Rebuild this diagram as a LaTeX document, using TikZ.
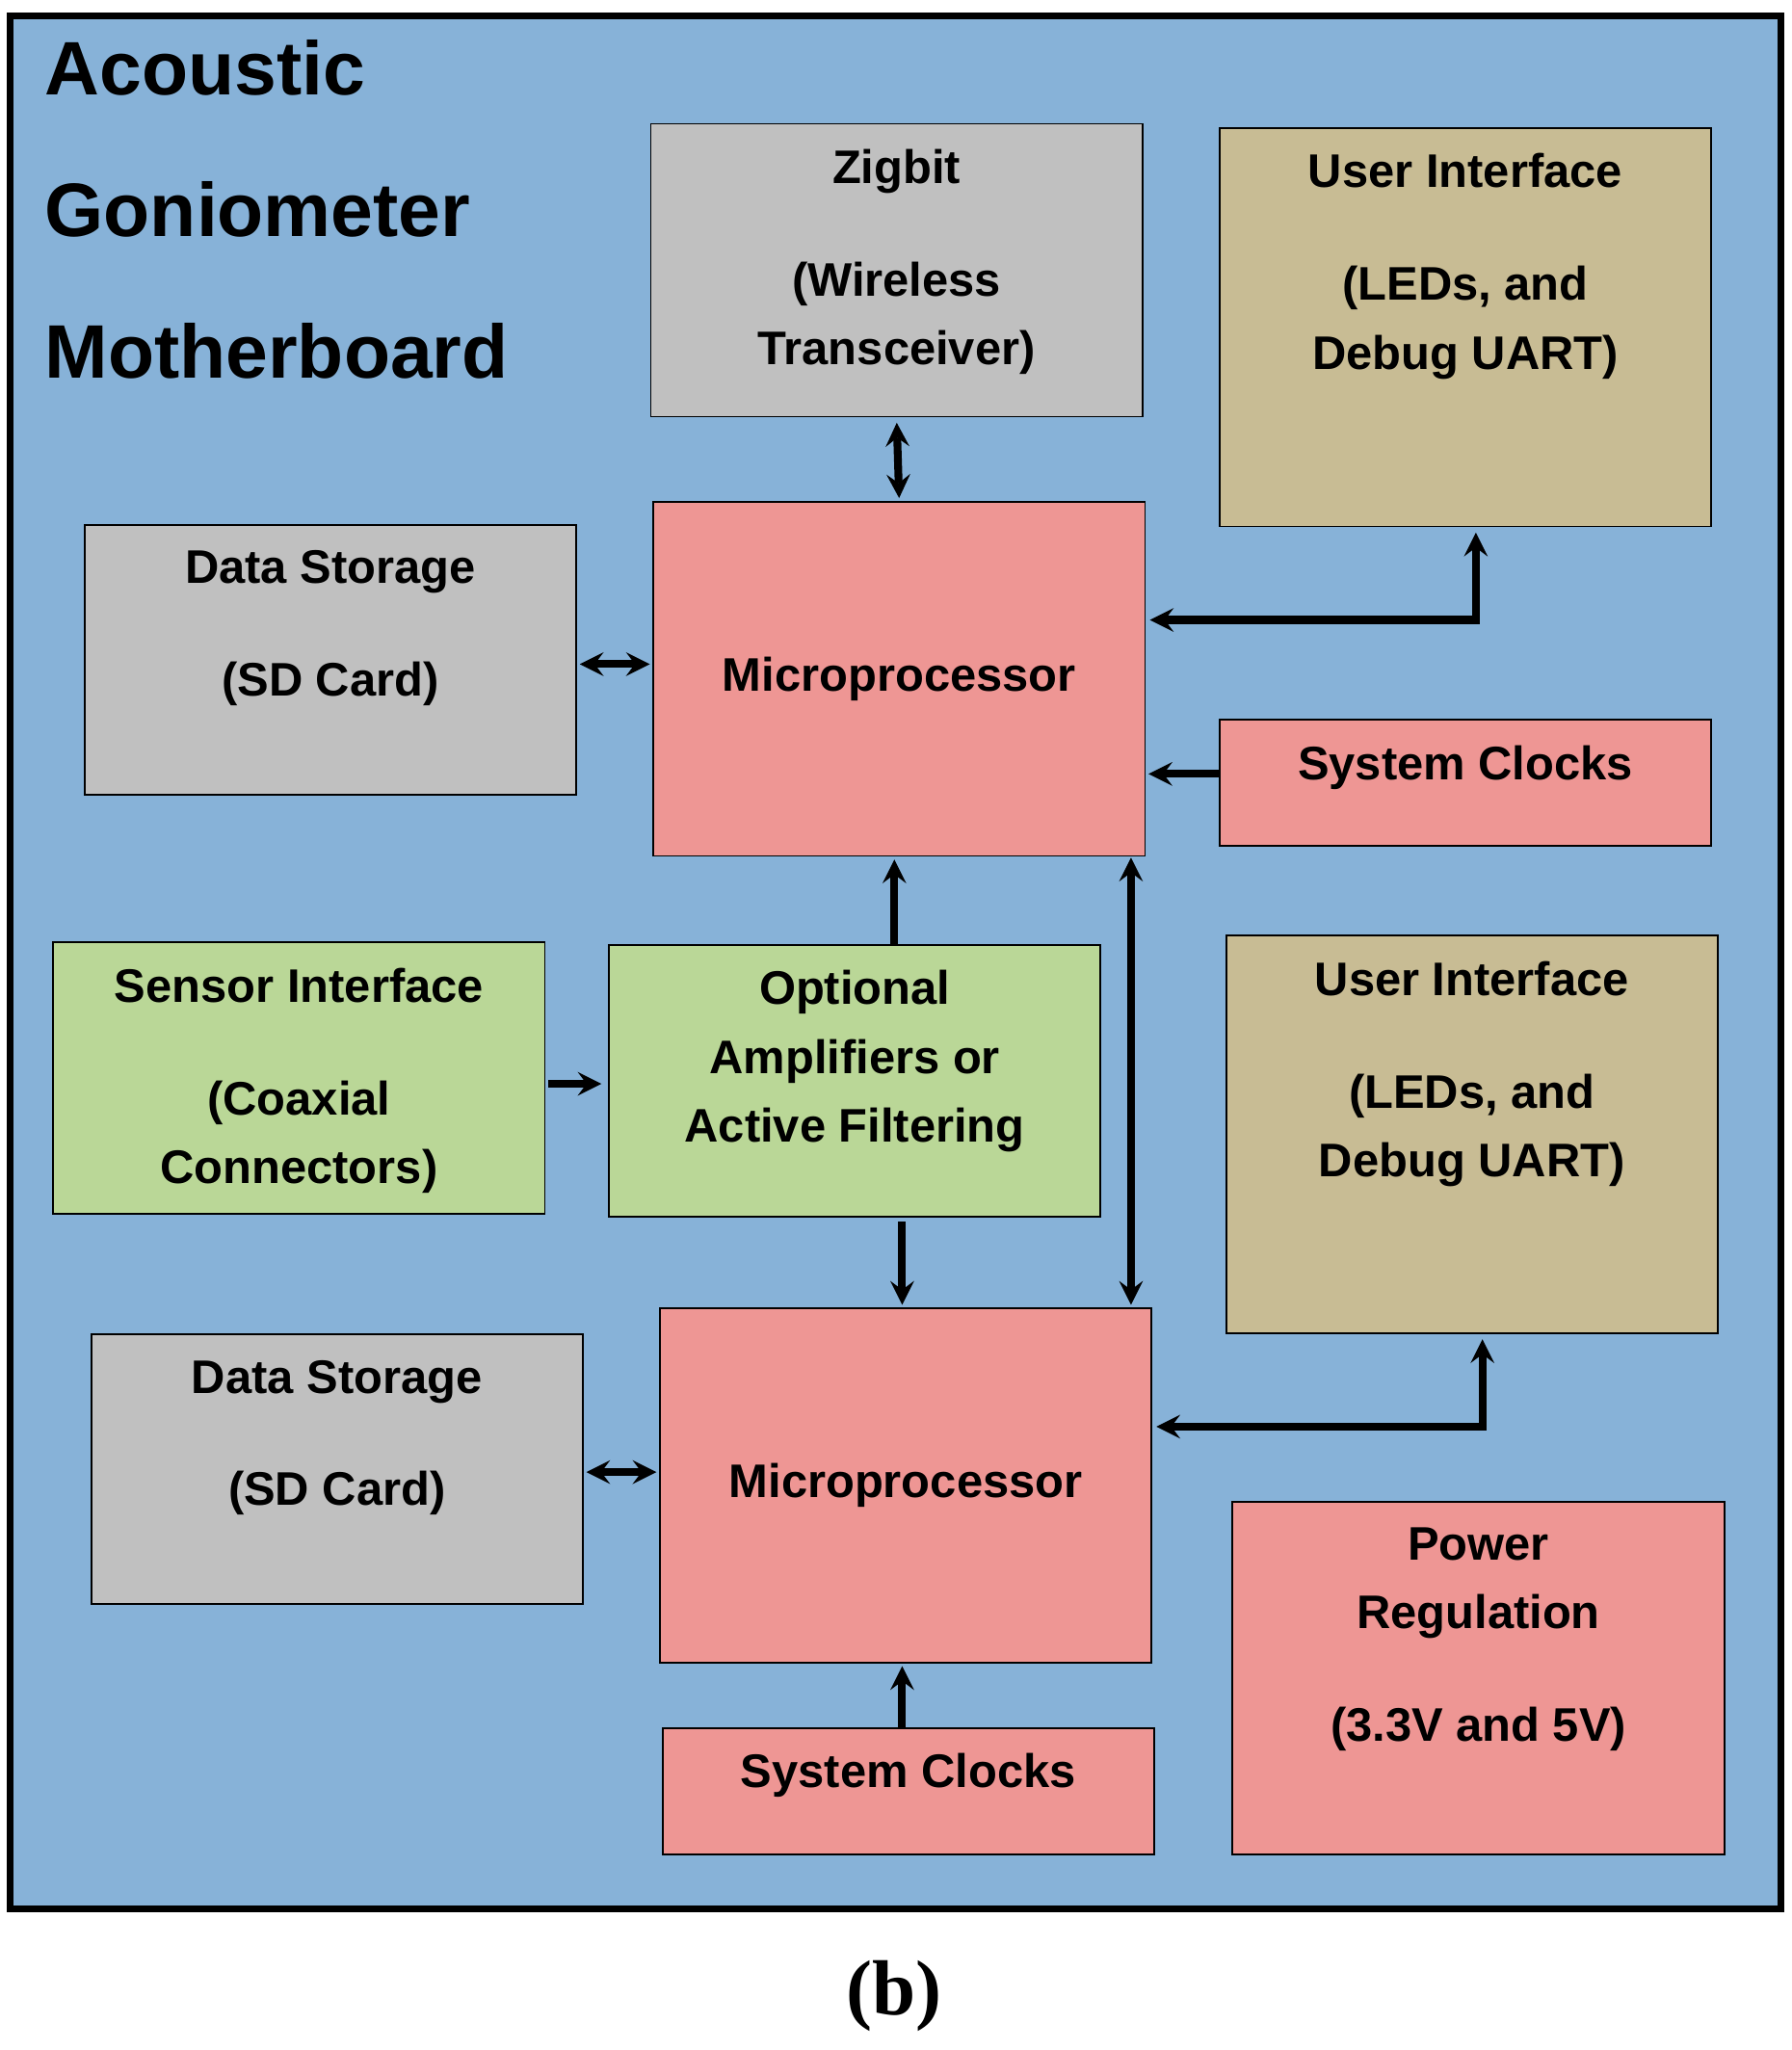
\documentclass[tikz,border=0pt]{standalone}
\usepackage{fontspec}
\setmainfont{Liberation Sans}
\newfontfamily\capfont{Liberation Serif}
\usetikzlibrary{positioning,arrows}
\definecolor{boardblue}{HTML}{87B2D8}
\definecolor{boxgray}{HTML}{C0C0C0}
\definecolor{boxtan}{HTML}{C8BC94}
\definecolor{boxpink}{HTML}{EE9694}
\definecolor{boxgreen}{HTML}{BAD797}

\begin{document}
\begin{tikzpicture}[
    box/.style={draw, line width=0.8pt, anchor=north west, minimum width=7.52cm, font=\bfseries\fontsize{20.5}{30}\selectfont},
    lbl/.style={align=center, inner sep=0pt, font=\bfseries\fontsize{20.5}{30}\selectfont},
    arrow/.style={->, >=stealth, line width=3.4pt},
    darrow/.style={<->, >=stealth, line width=3.4pt}
]
    \useasboundingbox (0,0) rectangle (27.4,31.36);
    \draw[line width=3pt, fill=boardblue] (0.16,2.16) rectangle (27.24,31.12);
    \node[font=\bfseries\fontsize{33}{43}\selectfont, align=left, anchor=north west, inner sep=0pt] (title) at (0.68,30.75)
        {Acoustic\\[0.65cm]Goniometer\\[0.65cm]Motherboard};

    \node[box, fill=boxgray, minimum height=4.48cm] (zig) at (9.94,29.48) {};
    \node[lbl, below=0.4cm of zig.north] {Zigbit\\[19pt](Wireless\\Transceiver)};
    \node[box, fill=boxtan, minimum height=6.1cm] (ui1) at (18.64,29.42) {};
    \node[lbl, below=0.4cm of ui1.north] {User Interface\\[19pt](LEDs, and\\Debug UART)};
    \node[box, fill=boxgray, minimum height=4.12cm] (ds1) at (1.28,23.34) {};
    \node[lbl, below=0.4cm of ds1.north] {Data Storage\\[19pt](SD Card)};
    \node[box, fill=boxpink, minimum height=5.42cm] (mp1) at (9.98,23.7) {Microprocessor};
    \node[box, fill=boxpink, minimum height=1.92cm] (sc1) at (18.64,20.36) {};
    \node[lbl, below=0.4cm of sc1.north] {System Clocks};

    \node[box, fill=boxgreen, minimum height=4.16cm] (si) at (0.8,16.96) {};
    \node[lbl, below=0.4cm of si.north] {Sensor Interface\\[19pt](Coaxial\\Connectors)};
    \node[box, fill=boxgreen, minimum height=4.16cm] (amp) at (9.3,16.92) {};
    \node[lbl, below=0.4cm of amp.north] {Optional\\Amplifiers or\\Active Filtering};
    \node[box, fill=boxtan, minimum height=6.08cm] (ui2) at (18.74,17.06) {};
    \node[lbl, below=0.4cm of ui2.north] {User Interface\\[19pt](LEDs, and\\Debug UART)};

    \node[box, fill=boxgray, minimum height=4.12cm] (ds2) at (1.38,10.96) {};
    \node[lbl, below=0.4cm of ds2.north] {Data Storage\\[19pt](SD Card)};
    \node[box, fill=boxpink, minimum height=5.42cm] (mp2) at (10.08,11.36) {Microprocessor};
    \node[box, fill=boxpink, minimum height=5.4cm] (pr) at (18.84,8.4) {};
    \node[lbl, below=0.4cm of pr.north] {Power\\Regulation\\[19pt](3.3V and 5V)};
    \node[box, fill=boxpink, minimum height=1.94cm] (sc2) at (10.12,4.94) {};
    \node[lbl, below=0.4cm of sc2.north] {System Clocks};

    \coordinate (link1) at (17.3,18.28);
    \coordinate (link2) at (17.3,11.36);

    \draw[darrow, shorten <=0.08cm, shorten >=0.04cm] (zig.south) -- (mp1.north);
    \draw[darrow, shorten <=0.04cm, shorten >=0.04cm] (ds1.east |- 0,21.2) -- (mp1.west |- 0,21.2);
    \draw[darrow, shorten <=0.08cm, shorten >=0.06cm] ([xshift=0.16cm]ui1.south) |- ([yshift=0.9cm]mp1.east);
    \draw[arrow, shorten >=0.04cm] (sc1.west |- 0,19.52) -- (mp1.east |- 0,19.52);
    \draw[arrow, shorten >=0.04cm] (amp.north -| 13.68,0) -- (mp1.south -| 13.68,0);
    \draw[darrow, shorten <=0.04cm, shorten >=0.04cm] (link1) -- (link2);
    \draw[arrow, shorten <=0.04cm, shorten >=0.1cm] (si.east |- 0,14.78) -- (amp.west |- 0,14.78);
    \draw[arrow, shorten <=0.06cm, shorten >=0.04cm] (amp.south -| 13.8,0) -- (mp2.north -| 13.8,0);
    \draw[darrow, shorten <=0.08cm, shorten >=0.06cm] ([xshift=0.16cm]ui2.south) |- ([yshift=0.9cm]mp2.east);
    \draw[darrow, shorten <=0.04cm, shorten >=0.04cm] (ds2.east |- 0,8.84) -- (mp2.west |- 0,8.84);
    \draw[arrow, shorten >=0.04cm] (sc2.north -| 13.8,0) -- (mp2.south -| 13.8,0);

    \node[font=\capfont\bfseries\fontsize{34}{40}\selectfont] (caption) at (13.68,0.82) {(b)};
\end{tikzpicture}
\end{document}
